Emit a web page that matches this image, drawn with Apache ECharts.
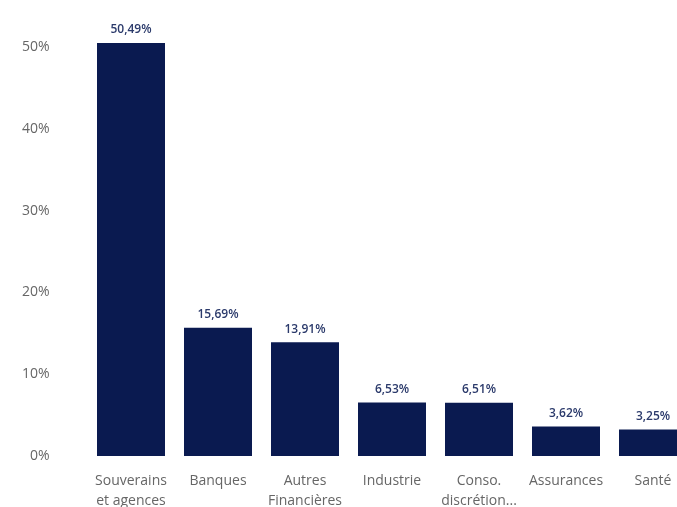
<!DOCTYPE html>
<html>
<head>
<meta charset="utf-8">
<script src="https://cdn.jsdelivr.net/npm/echarts@6/dist/echarts.min.js"></script>
<style>
  html, body { margin: 0; padding: 0; background: #ffffff; }
  #chart { width: 677px; height: 507px; }
</style>
</head>
<body>
<div id="chart"></div>
<script>
// Sector breakdown (percent of portfolio)
const categories = [
  'Souverains\net agences',
  'Banques',
  'Autres\nFinancières',
  'Industrie',
  'Conso.\ndiscrétion...',
  'Assurances',
  'Santé'
];
const weights = [50.49, 15.69, 13.91, 6.53, 6.51, 3.62, 3.25];
const yTicks = [0, 10, 20, 30, 40, 50];

const chart = echarts.init(document.getElementById('chart'), null, { renderer: 'canvas' });

chart.setOption({
  animation: false,
  backgroundColor: '#ffffff',
  grid: {
    left: 87.5, top: 47, width: 609, height: 409,
    containLabel: false,
    outerBoundsMode: 'none'
  },
  xAxis: {
    type: 'category',
    data: categories,
    axisLine: { show: false },
    axisTick: { show: false },
    axisLabel: {
      interval: 0,
      margin: 15,
      color: '#666666',
      fontFamily: 'Open Sans',
      fontSize: 14,
      lineHeight: 20
    }
  },
  yAxis: {
    type: 'value',
    min: yTicks[0],
    max: yTicks[yTicks.length - 1],
    interval: 10,
    axisLine: { show: false },
    axisTick: { show: false },
    splitLine: { show: false },
    axisLabel: {
      margin: 38,
      color: '#666666',
      fontFamily: 'Open Sans',
      fontSize: 14,
      formatter: v => v + '%'
    }
  },
  series: [{
    type: 'bar',
    data: weights,
    barWidth: 68,
    clip: false,
    itemStyle: { color: '#0a1a50' },
    label: {
      show: true,
      position: 'top',
      distance: 7,
      color: '#2b3a6b',
      fontFamily: 'Open Sans',
      fontWeight: 600,
      fontSize: 12,
      formatter: p => p.value.toFixed(2).replace('.', ',') + '%'
    }
  }]
});
</script>
</body>
</html>
